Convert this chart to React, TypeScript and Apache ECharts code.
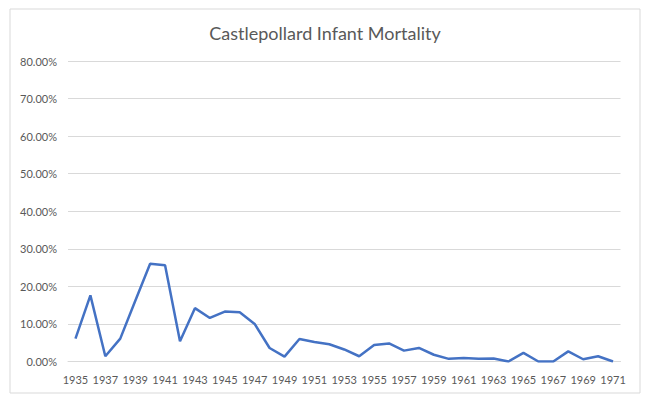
import React, { useEffect, useRef } from "react";
import * as echarts from "echarts";

const years = [
  "1935", "1936", "1937", "1938", "1939", "1940", "1941", "1942", "1943", "1944",
  "1945", "1946", "1947", "1948", "1949", "1950", "1951", "1952", "1953", "1954",
  "1955", "1956", "1957", "1958", "1959", "1960", "1961", "1962", "1963", "1964",
  "1965", "1966", "1967", "1968", "1969", "1970", "1971",
];

// infant mortality, percent
const mortality = [
  6.1, 17.6, 1.4, 6.1, 16.1, 26.0, 25.6, 5.4, 14.2, 11.6,
  13.3, 13.1, 10.0, 3.6, 1.3, 6.0, 5.2, 4.6, 3.2, 1.4,
  4.4, 4.8, 2.9, 3.6, 1.8, 0.7, 0.9, 0.7, 0.8, 0.0,
  2.3, 0.0, 0.0, 2.7, 0.6, 1.4, 0.0,
];

const chartTitle = "Castlepollard Infant Mortality";

export default function App() {
  const ref = useRef<HTMLDivElement>(null);
  useEffect(() => {
    if (!ref.current) return;
    const chart = echarts.init(ref.current, null, { renderer: "svg" });
    const font = "Lato, 'Open Sans', sans-serif";
    chart.setOption({
      animation: false,
      backgroundColor: "#ffffff",
      title: {
        text: chartTitle,
        left: "center",
        top: 19,
        textStyle: { fontFamily: font, fontSize: 18, fontWeight: "normal", color: "#595959" },
      },
      graphic: [
        {
          type: "rect",
          shape: { x: 10, y: 9, width: 630, height: 384 },
          style: { fill: "none", stroke: "#d9d9d9", lineWidth: 1 },
          silent: true,
        },
      ],
      grid: { left: 68, right: 29.5, top: 61, bottom: 42.5, containLabel: false },
      xAxis: {
        type: "category",
        data: years,
        boundaryGap: true,
        axisTick: { show: false },
        axisLine: { lineStyle: { color: "#d9d9d9", width: 1 } },
        axisLabel: {
          interval: 1,
          color: "#595959",
          fontFamily: font,
          fontSize: 11,
          margin: 12,
        },
      },
      yAxis: {
        type: "value",
        min: 0,
        max: 80,
        interval: 10,
        axisLine: { show: false },
        axisTick: { show: false },
        splitLine: { lineStyle: { color: "#d9d9d9", width: 1 } },
        axisLabel: {
          color: "#595959",
          fontFamily: font,
          fontSize: 11,
          margin: 11,
          formatter: (v: number) => v.toFixed(2) + "%",
        },
      },
      series: [
        {
          type: "line",
          data: mortality,
          showSymbol: false,
          symbol: "none",
          lineStyle: { color: "#4472C4", width: 2.5 },
          itemStyle: { color: "#4472C4" },
        },
      ],
    });
    return () => chart.dispose();
  }, []);
  return (
    <div
      ref={ref}
      style={{ position: "absolute", left: 0, top: 0, width: 650, height: 404 }}
    />
  );
}
